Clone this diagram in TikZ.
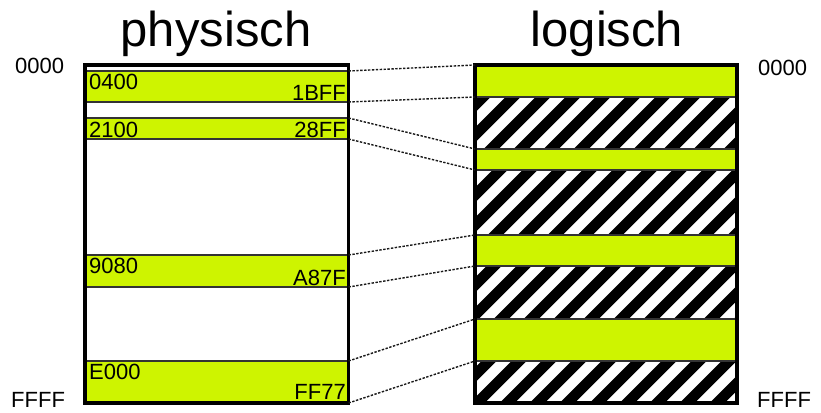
\documentclass[tikz,border=0pt]{standalone}
\usepackage{fontspec}
\setmainfont{Liberation Sans}
\definecolor{lime}{RGB}{206,244,0}
\begin{document}
\begin{tikzpicture}[x=1pt,y=-1pt,
  band/.style={draw=black!80, line width=1.2pt, fill=lime, inner sep=0pt, outer sep=0pt, anchor=north west},
  frame/.style={draw=black, line width=3.2pt, inner sep=0pt, outer sep=0pt, anchor=north west},
  link/.style={draw=black!90, line width=1.4pt, dash pattern=on 2.4pt off 1.5pt},
  addr/.style={font=\fontsize{22}{26}\selectfont, inner sep=0pt},
  title/.style={font=\fontsize{49}{58}\selectfont, inner sep=0pt, anchor=base},
  stripe/.style={line width=10.6pt, black}]
\useasboundingbox[fill=white] (0,0) rectangle (821,412);

% titles
\node[title] (tphys) at (216,47) {physisch};
\node[title] (tlog) at (607,47) {logisch};

% physical address space: occupied ranges
\node[band, minimum width=263.5pt, minimum height=31pt] (p1) at (85,71) {};
\node[band, minimum width=263.5pt, minimum height=21pt] (p2) at (85,118) {};
\node[band, minimum width=263.5pt, minimum height=32pt] (p3) at (85,255) {};
\node[band, minimum width=263.5pt, minimum height=42pt] (p4) at (85,361) {};
\node[frame, minimum width=263.5pt, minimum height=338pt] (phys) at (85,65) {};

% logical address space: hatched background, mapped ranges on top
\begin{scope}
  \clip (475,65) rectangle (737,403);
  \foreach \i in {0,...,22}
    \draw[stripe] (110+\i*30,410) -- ++(400,-400);
\end{scope}
\node[band, minimum width=262pt, minimum height=32pt] (l1) at (475,65) {};
\node[band, minimum width=262pt, minimum height=21pt] (l2) at (475,149) {};
\node[band, minimum width=262pt, minimum height=31pt] (l3) at (475,235) {};
\node[band, minimum width=262pt, minimum height=42pt] (l4) at (475,319) {};
\node[frame, minimum width=262pt, minimum height=338pt] (logi) at (475,65) {};

% mapping lines
\foreach \k in {1,...,4} {
  \draw[link] (p\k.north east) -- (l\k.north west);
  \draw[link] (p\k.south east) -- (l\k.south west);
}

% range addresses
\node[addr, anchor=base west] (a1) at (89,89) {0400};
\node[addr, anchor=base east] (b1) at (346,100.5) {1BFF};
\node[addr, anchor=base west] (a2) at (89,137) {2100};
\node[addr, anchor=base east] (b2) at (346,137) {28FF};
\node[addr, anchor=base west] (a3) at (89,273) {9080};
\node[addr, anchor=base east] (b3) at (346,285) {A87F};
\node[addr, anchor=base west] (a4) at (89,379) {E000};
\node[addr, anchor=base east] (b4) at (346,399) {FF77};

% address space limits
\node[addr, anchor=base west] (lo1) at (15,74) {0000};
\node[addr, anchor=base west] (hi1) at (11,407) {FFFF};
\node[addr, anchor=base west] (lo2) at (758,75) {0000};
\node[addr, anchor=base west] (hi2) at (757,407) {FFFF};
\end{tikzpicture}
\end{document}
